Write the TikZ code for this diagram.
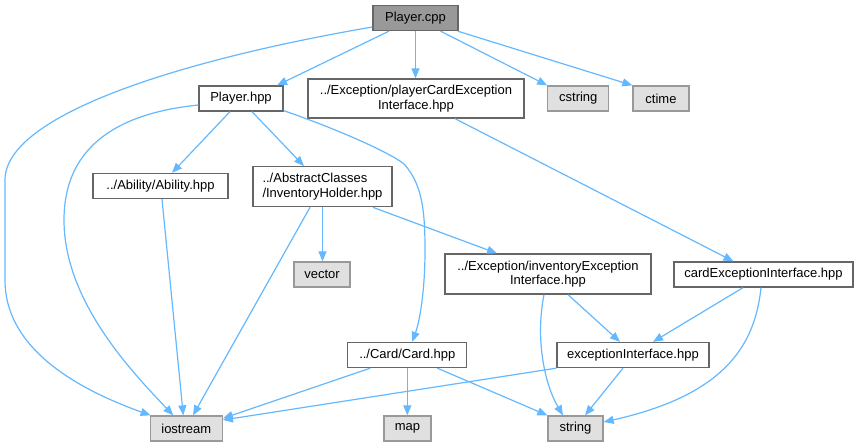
\documentclass[tikz,border=0pt]{standalone}
\usepackage{fontspec}
\setmainfont{Liberation Sans}
\usetikzlibrary{arrows.meta}
\definecolor{edgeblue}{HTML}{63B8FF}
\definecolor{boxline}{HTML}{666666}
\definecolor{sysline}{HTML}{999999}
\definecolor{sysfill}{HTML}{E0E0E0}
\definecolor{rootfill}{HTML}{999999}

\begin{document}
\begin{tikzpicture}[x=1pt,y=-1pt,>={Triangle[length=10pt,width=8pt]},
  hdr/.style={draw=boxline,line width=1.3pt,fill=white,inner sep=0pt,
    minimum height=25pt,font=\fontsize{13}{14.5}\selectfont},
  sys/.style={hdr,draw=sysline,fill=sysfill},
  root/.style={hdr,fill=rootfill},
  dep/.style={->,draw=edgeblue,line width=1.2pt}]
\useasboundingbox (0,0) rectangle (859,447);
% 源文件
\node[root,minimum width=85pt] (cpp) at (415.5,18) {Player.cpp};
% 第一层
\node[hdr,minimum width=84pt] (phpp) at (241,98.5) {Player.hpp};
\node[hdr,minimum width=216pt,minimum height=39pt,align=center] (pcei) at (416,98.5)
  {../Exception/playerCardException\\Interface.hpp};
\node[sys,minimum width=61pt] (cstring) at (578.3,98.5) {cstring};
\node[sys,minimum width=56pt] (ctime) at (661,98.5) {ctime};
% 第二层
\node[hdr,minimum width=135pt] (ability) at (160.5,186) {../Ability/Ability.hpp};
\node[hdr,minimum width=139pt,minimum height=40pt,align=left] (invholder) at (322.5,186.7)
  {../AbstractClasses\\/InventoryHolder.hpp};
% 第三层
\node[sys,minimum width=56pt] (vector) at (322,274.5) {vector};
\node[hdr,minimum width=206pt,minimum height=40pt,align=center] (iei) at (548,274)
  {../Exception/inventoryException\\Interface.hpp};
\node[hdr,minimum width=179pt] (cei) at (763.5,274.5) {cardExceptionInterface.hpp};
% 第四层
\node[hdr,minimum width=119pt] (card) at (407.3,355) {../Card/Card.hpp};
\node[hdr,minimum width=152pt] (ei) at (633,355) {exceptionInterface.hpp};
% 标准库
\node[sys,minimum width=72pt] (iostream) at (186.3,428.5) {iostream};
\node[sys,minimum width=47pt] (map) at (407.5,428.5) {map};
\node[sys,minimum width=55pt] (string) at (575.5,428.5) {string};

% Player.cpp 的依赖
\draw[dep] ([yshift=-9pt]cpp.west) .. controls (180,60) and (5,115) .. (5,180)
  -- (5,280) .. controls (5,350) and (80,390) .. ([xshift=1pt]iostream.north west);
\draw[dep] ([xshift=-26.5pt]cpp.south) -- ([xshift=36pt]phpp.north);
\draw[dep] (cpp.south) -- (cpp.south |- pcei.north);
\draw[dep] ([xshift=25pt]cpp.south) -- (cstring.north west);
\draw[dep] ([xshift=-1pt]cpp.south east) -- (ctime.north west);
% Player.hpp 的依赖
\draw[dep] ([yshift=-6.5pt]phpp.west) .. controls (100,115) and (64,160) .. (64,220)
  .. controls (64,300) and (130,370) .. ([xshift=-13pt]iostream.north);
\draw[dep] ([xshift=-11pt]phpp.south) -- ([xshift=11.5pt]ability.north);
\draw[dep] ([xshift=11pt]phpp.south) -- ([xshift=-18.5pt]invholder.north);
\draw[dep] ([yshift=1pt]phpp.south east) .. controls (340,130) and (395,155) .. (405,165)
  .. controls (422,185) and (425,210) .. (425,250)
  .. controls (425,290) and (420,320) .. ([xshift=5pt]card.north);
% 异常接口
\draw[dep] ([xshift=39pt]pcei.south) -- ([xshift=-30pt]cei.north);
\draw[dep] ([xshift=1.5pt]ability.south) -- ([xshift=-3pt]iostream.north);
\draw[dep] (invholder.south) -- (invholder.south |- vector.north);
\draw[dep] ([xshift=-12.5pt]invholder.south) -- ([xshift=6.7pt]iostream.north);
\draw[dep] ([xshift=50.5pt]invholder.south) -- ([xshift=-51pt]iei.north);
\draw[dep] ([xshift=-4pt]iei.south) .. controls (535,340) and (545,385) .. ([xshift=-12.5pt]string.north);
\draw[dep] ([xshift=20pt]iei.south) -- ([xshift=-13pt]ei.north);
\draw[dep] ([xshift=-20.5pt]cei.south) -- ([xshift=20pt]ei.north);
\draw[dep] ([xshift=-2.5pt]cei.south) .. controls (755,345) and (725,395) .. ([yshift=6.5pt]string.east);
% Card.hpp 与 exceptionInterface.hpp
\draw[dep] ([xshift=-37pt]card.south) -- ([yshift=-3pt]iostream.north east);
\draw[dep] (card.south) -- (card.south |- map.north);
\draw[dep] ([xshift=30pt]card.south) -- (string.north west);
\draw[dep] (ei.south west) -- ([yshift=8.5pt]iostream.east);
\draw[dep] ([xshift=-10pt]ei.south) -- ([xshift=9.5pt]string.north);
\end{tikzpicture}
\end{document}
